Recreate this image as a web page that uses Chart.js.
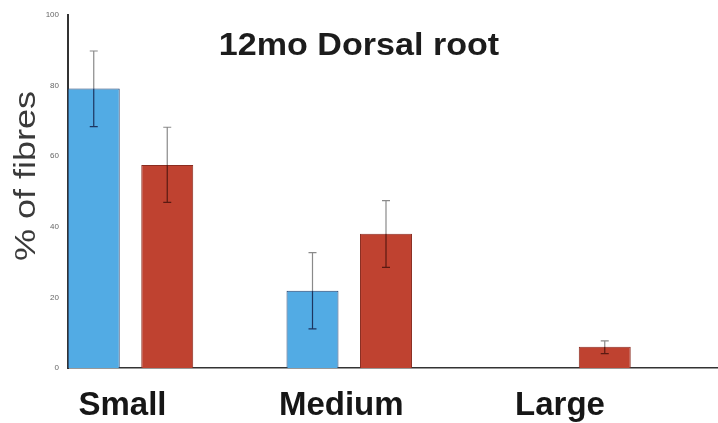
<!DOCTYPE html>
<html>
<head>
<meta charset="utf-8">
<script src="https://cdn.jsdelivr.net/npm/chart.js@4"></script>
<style>
  html, body { margin: 0; padding: 0; background: #fff; }
  #wrap { width: 718px; height: 423px; position: relative; }
</style>
</head>
<body>
<div id="wrap"><canvas id="c" width="718" height="423"></canvas></div>
<script>
// ---- data ----
const categories = ['Small', 'Medium', 'Large'];
const groupA = [79.2, 21.9, 0];      // blue series
const groupB = [57.5, 38.0, 6.0];    // red series
const errA_low  = [68.4, 11.1, null];
const errA_high = [89.8, 32.7, null];
const errB_low  = [46.9, 28.5, 4.1];
const errB_high = [68.2, 47.4, 7.7];
const yTicks = [0, 20, 40, 60, 80, 100];
const chartTitle = '12mo Dorsal root';
const yTitle = '% of fibres';

const FONT = '"Liberation Sans", Arial, Helvetica, sans-serif';

const errLows = [errA_low, errB_low];
const errHighs = [errA_high, errB_high];

const errorBarPlugin = {
  id: 'errorBars',
  afterDatasetsDraw(chart) {
    const ctx = chart.ctx;
    const y = chart.scales.y;
    chart.data.datasets.forEach((ds, di) => {
      const meta = chart.getDatasetMeta(di);
      meta.data.forEach((bar, i) => {
        const lo = errLows[di][i], hi = errHighs[di][i];
        if (lo == null || hi == null) return;
        const x = bar.x;
        const yLo = y.getPixelForValue(lo);
        const yHi = y.getPixelForValue(hi);
        const yTop = bar.y;
        ctx.save();
        ctx.lineWidth = 1.2;
        ctx.strokeStyle = '#8a8a8a';
        ctx.beginPath();
        ctx.moveTo(x, yHi); ctx.lineTo(x, Math.min(yTop, yLo));
        ctx.moveTo(x - 4, yHi); ctx.lineTo(x + 4, yHi);
        ctx.stroke();
        ctx.strokeStyle = di === 0 ? '#1d3560' : '#5a1a12';
        ctx.beginPath();
        ctx.moveTo(x, Math.max(yTop, yHi)); ctx.lineTo(x, yLo);
        ctx.moveTo(x - 4, yLo); ctx.lineTo(x + 4, yLo);
        ctx.stroke();
        ctx.restore();
      });
    });
  }
};

const textPlugin = {
  id: 'customText',
  afterDraw(chart) {
    const ctx = chart.ctx;
    ctx.save();
    ctx.translate(359, 55);
    ctx.scale(1.1, 1);
    ctx.font = 'bold 31px ' + FONT;
    ctx.fillStyle = '#1c1c1c';
    ctx.textAlign = 'center';
    ctx.textBaseline = 'alphabetic';
    ctx.fillText(chartTitle, 0, 0);
    ctx.restore();

    ctx.save();
    ctx.translate(35, 176);
    ctx.rotate(-Math.PI / 2);
    ctx.scale(1.2, 1);
    ctx.font = '30px ' + FONT;
    ctx.fillStyle = '#3a3a3a';
    ctx.textAlign = 'center';
    ctx.textBaseline = 'alphabetic';
    ctx.fillText(yTitle, 0, 0);
    ctx.restore();
  }
};

new Chart(document.getElementById('c'), {
  type: 'bar',
  data: {
    datasets: [
      {
        label: 'A',
        data: groupA.map((v, i) => ({ x: i, y: v })),
        backgroundColor: '#52abe4',
        borderColor: '#25426f',
        borderWidth: 1,
        categoryPercentage: 0.672,
        barPercentage: 0.707
      },
      {
        label: 'B',
        data: groupB.map((v, i) => ({ x: i, y: v })),
        backgroundColor: '#bf4230',
        borderColor: '#8a2c20',
        borderWidth: 1,
        categoryPercentage: 0.672,
        barPercentage: 0.707
      }
    ]
  },
  options: {
    responsive: false,
    animation: false,
    layout: { padding: { top: 15, right: 0, bottom: 0, left: 0 } },
    plugins: { legend: { display: false }, title: { display: false }, tooltip: { enabled: false } },
    scales: {
      x: {
        type: 'linear',
        offset: false,
        min: -0.2857,
        max: 2.6857,
        afterBuildTicks(scale) { scale.ticks = categories.map((c, i) => ({ value: i })); },
        afterFit(scale) { scale.height = 55; },
        grid: { display: false, drawTicks: false, offset: false },
        border: { display: true, color: '#333', width: 1.5 },
        ticks: {
          autoSkip: false,
          maxRotation: 0,
          padding: 18,
          labelOffset: -8,
          color: '#161616',
          font: { family: FONT, size: 33, weight: 'bold' },
          callback: (v) => categories[v]
        }
      },
      y: {
        min: 0,
        max: 100,
        afterBuildTicks(scale) { scale.ticks = yTicks.map(v => ({ value: v })); },
        afterFit(scale) { scale.width = 68; },
        grid: { display: false, drawTicks: false },
        border: { display: true, color: '#333', width: 2 },
        ticks: {
          padding: 9,
          color: '#666',
          font: { family: FONT, size: 8 }
        }
      }
    }
  },
  plugins: [errorBarPlugin, textPlugin]
});
</script>
</body>
</html>
